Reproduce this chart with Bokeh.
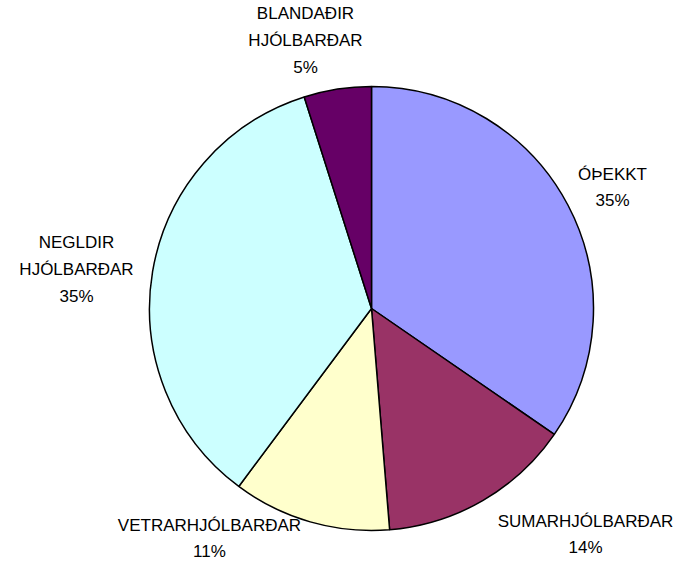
import math
from bokeh.plotting import figure
from bokeh.models import ColumnDataSource
from bokeh.embed import file_html
from bokeh.resources import INLINE
from bokeh.core.properties import value

# ---- data ----
categories = ["ÓÞEKKT", "SUMARHJÓLBARÐAR", "VETRARHJÓLBARÐAR", "NEGLDIR\nHJÓLBARÐAR", "BLANDAÐIR\nHJÓLBARÐAR"]
shares = [34.6, 14.1, 11.5, 34.9, 4.9]
pct_labels = ["35%", "14%", "11%", "35%", "5%"]
colors = ["#9999FF", "#993366", "#FFFFCC", "#CCFFFF", "#660066"]

# ---- layout ----
W, H = 677, 560
cx, cy, R = 371, 252, 222
# label offsets from pie centre (pixels, y up)
label_offsets = [(241, 121), (214, -226), (-162, -230), (-295, 39), (-66, 268)]

total = sum(shares)
starts, ends = [], []
a = math.pi / 2
for s in shares:
    starts.append(a)
    a -= 2 * math.pi * s / total
    ends.append(a)

src = ColumnDataSource(dict(start=starts, end=ends, color=colors))

p = figure(width=W, height=H, x_range=(0, W), y_range=(0, H),
           output_backend="svg", toolbar_location=None, min_border=0)
p.axis.visible = False
p.grid.visible = False
p.outline_line_color = None
p.background_fill_color = "white"

p.wedge(x=cx, y=cy, radius=R, start_angle="start", end_angle="end",
        direction="clock", fill_color="color", line_color="black",
        line_width=1.5, source=src)

texts = [c + "\n" + pl for c, pl in zip(categories, pct_labels)]
lsrc = ColumnDataSource(dict(
    x=[cx + dx for dx, dy in label_offsets],
    y=[cy + dy for dx, dy in label_offsets],
    t=texts))
p.text(x="x", y="y", text="t", source=lsrc, text_align="center",
       text_baseline="middle", text_font=value("Liberation Sans"),
       text_font_size="17px", text_color="black", text_line_height=1.4)

open("out.html", "w").write(file_html(p, INLINE))
